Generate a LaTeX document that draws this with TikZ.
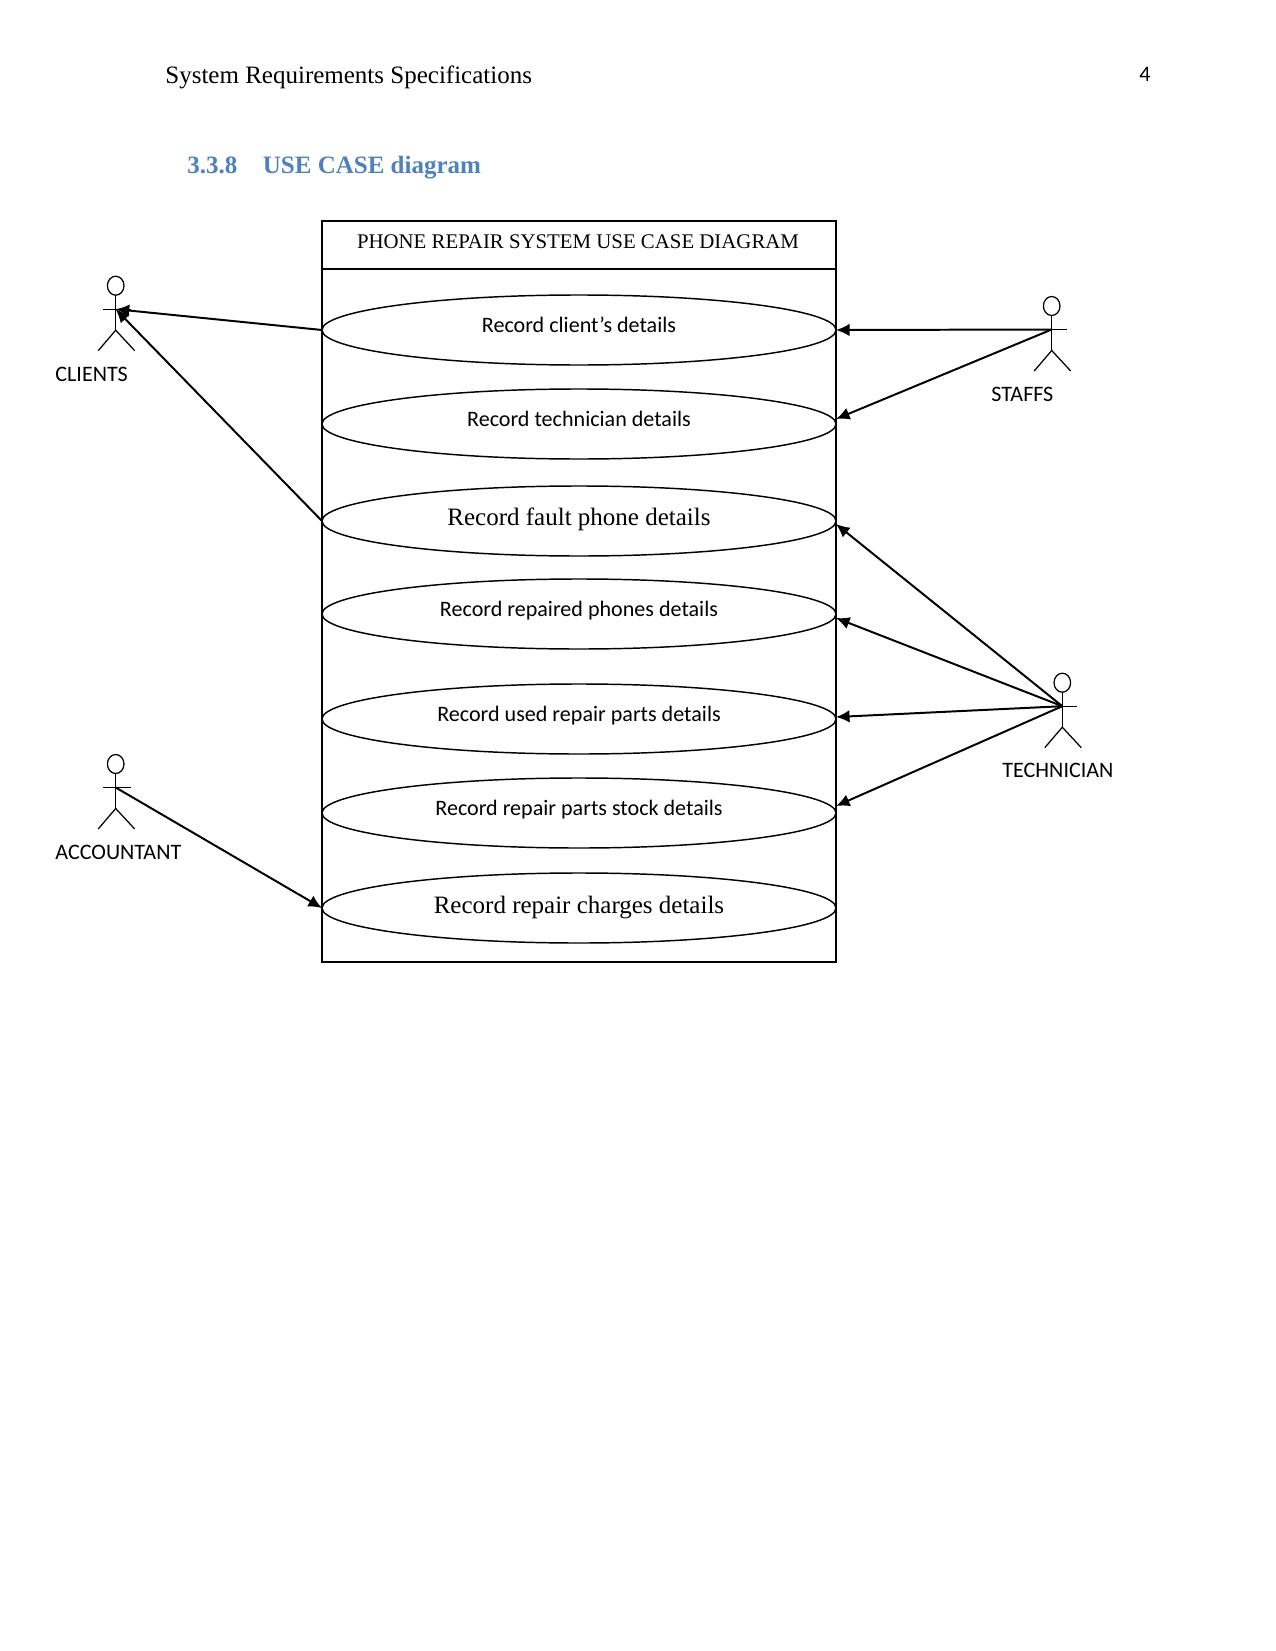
\documentclass[tikz,border=0pt]{standalone}
\usepackage{fontspec}
\setmainfont{Liberation Serif}
\newfontfamily\calfont{Carlito}
\usetikzlibrary{shapes.geometric,arrows.meta,calc}
\definecolor{headblue}{HTML}{4F81BD}
\tikzset{
  usecase/.style={draw=black,line width=0.7pt,ellipse,minimum width=514*0.48pt,minimum height=70*0.48pt,inner sep=0pt,outer sep=0pt},
  calcase/.style={usecase,font=\calfont\fontsize{10.6}{13}\selectfont},
  timescase/.style={usecase,font=\fontsize{12}{14}\selectfont},
  assoc/.style={draw=black,line width=0.95pt,-{Latex[length=6.5pt,width=6pt]}},
  limb/.style={draw=black,line width=0.6pt},
  actorlabel/.style={anchor=west,inner sep=0pt,font=\calfont\fontsize{10.6}{13}\selectfont},
  headtext/.style={anchor=base west,inner sep=0pt,font=\bfseries\fontsize{12}{14}\selectfont,text=headblue}
}
\newcommand{\actorfig}[3]{% name, head x, head y
  \draw[limb] (#2,#3) ellipse [x radius=8.3,y radius=9.5];
  \draw[limb] (#2,#3+9.5) -- (#2,#3+44.5);
  \draw[limb] (#2-12.7,#3+23.5) -- (#2+15,#3+23.5);
  \draw[limb] (#2-17.5,#3+65) -- (#2,#3+44.5) -- (#2+19,#3+65);
  \coordinate (#1) at (#2,#3+23.5);
}
\begin{document}
\begin{tikzpicture}[x=0.48pt,y=-0.48pt]
\useasboundingbox[fill=white] (0,0) rectangle (1275,1651);
\node[anchor=base west,inner sep=0pt,font=\fontsize{12}{14}\selectfont] (hdr) at (165,84) {System Requirements Specifications};
\node[anchor=base east,inner sep=0pt,font=\calfont\fontsize{10.6}{13}\selectfont] (pg) at (1151,82) {4};
\node[headtext] (hnum) at (187,174) {3.3.8};
\node[headtext] (htitle) at (262.5,174) {USE CASE diagram};

\node[draw=black,line width=0.8pt,minimum width=514*0.48pt,minimum height=741*0.48pt,anchor=north west,inner sep=0pt,outer sep=0pt] (sys) at (322,221) {};
\draw[black,line width=0.8pt] (322,269) -- (836,269);
\node[font=\fontsize{10}{12}\selectfont,inner sep=0pt] (systitle) at (578,242) {PHONE REPAIR SYSTEM USE CASE DIAGRAM};

\node[calcase] (u1) at (579,330) {\raisebox{5pt}{Record client’s details}};
\node[calcase] (u2) at (579,424) {\raisebox{5pt}{Record technician details}};
\node[timescase] (u3) at (579,521) {\raisebox{4pt}{Record fault phone details}};
\node[calcase] (u4) at (579,614) {\raisebox{5pt}{Record repaired phones details}};
\node[calcase] (u5) at (579,719) {\raisebox{5pt}{Record used repair parts details}};
\node[calcase] (u6) at (579,813) {\raisebox{5pt}{Record repair parts stock details}};
\node[timescase] (u7) at (579,908) {\raisebox{2pt}{Record repair charges details}};

\actorfig{clients}{115.7}{285.7}
\actorfig{accountant}{115.7}{764}
\actorfig{staffs}{1051.7}{306}
\actorfig{technician}{1062.3}{682.7}

\node[actorlabel] (lc) at (55,374) {CLIENTS};
\node[actorlabel] (la) at (55,852) {ACCOUNTANT};
\node[actorlabel] (ls) at (991,394) {STAFFS};
\node[actorlabel] (lt) at (1002,770) {TECHNICIAN};

\draw[assoc] (u1.west) -- (clients);
\draw[assoc] (u3.west) -- (clients);
\draw[assoc] (staffs) -- (u1.east);
\draw[assoc] (staffs) -- ($(u2.east)+(0,-5)$);
\draw[assoc] (technician) -- ($(u3.east)+(0,3)$);
\draw[assoc] (technician) -- ($(u4.east)+(0,4)$);
\draw[assoc] (technician) -- ($(u5.east)+(0,-2)$);
\draw[assoc] (technician) -- ($(u6.east)+(0,-7)$);
\draw[assoc] (accountant) -- (u7.west);
\end{tikzpicture}
\end{document}
